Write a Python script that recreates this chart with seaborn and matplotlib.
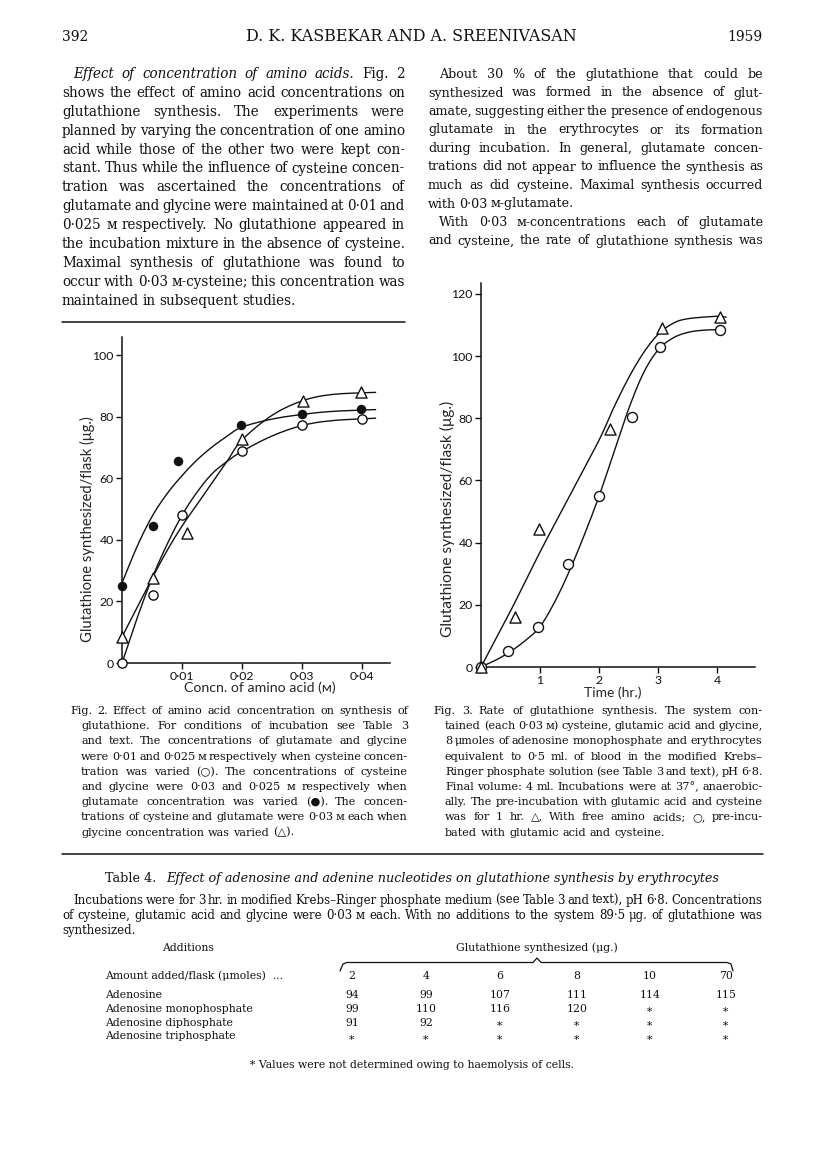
import numpy as np
import seaborn as sns
import matplotlib
matplotlib.use("Agg")
import matplotlib.pyplot as plt
from matplotlib.lines import Line2D

W, H, DPI = 816, 1155, 100
SERIF = ["DejaVu Serif", "DejaVu Sans"]
SANS = ["Lato", "DejaVu Sans"]
INK = "#111111"

# ---- Fig. 2 : concentration of amino acid (M) vs glutathione (ug/flask)
cys_x = [0, 0.0052, 0.01, 0.02, 0.03, 0.04]          # open circles
cys_y = [0, 22, 48, 69, 77.5, 79.5]
glu_x = [0, 0.0052, 0.0093, 0.0199, 0.03, 0.0399]    # filled circles
glu_y = [25, 44.7, 65.8, 77.5, 81, 82.6]
gly_x = [0, 0.0051, 0.0108, 0.02, 0.0302, 0.0398]    # triangles
gly_y = [8.5, 27.5, 42.4, 72.8, 85.1, 88.2]

# hand drawn fitted curves
c2_x = [0, 0.0025, 0.005, 0.0075, 0.01, 0.0125, 0.015, 0.0175, 0.02, 0.025, 0.03, 0.035, 0.0423]
cys_cy = [0, 14.5, 27.5, 38.5, 48, 55.5, 61.5, 65.5, 68.8, 73.8, 77.2, 78.8, 79.6]
glu_cy = [26, 37.8, 47.6, 55, 60.9, 66, 70.2, 73.7, 76.7, 79.3, 80.8, 81.8, 82.4]
gly_cy = [8.5, 18, 27.5, 36.5, 44.5, 51.5, 58.5, 65.5, 72.5, 80.5, 85.2, 87.3, 88]

# ---- Fig. 3 : time (hr) vs glutathione (ug/flask)
free_x = [0, 0.58, 0.99, 2.19, 3.07, 4.05]            # triangles
free_y = [0, 16, 44.5, 76.5, 109, 112.5]
pre_x = [0, 0.45, 0.96, 1.48, 2.0, 2.56, 3.03, 4.05]   # circles
pre_y = [0, 5, 13, 33, 55, 80.5, 103, 108.5]

free_cx = [0, 0.5, 1, 1.5, 2, 2.25, 2.5, 2.75, 3, 3.25, 3.5, 4.0, 4.15]
free_cy = [0, 18, 37, 55, 73, 83.5, 93, 101, 107, 110.5, 112, 112.8, 112.5]
pre_cx = [0, 0.25, 0.5, 0.75, 1, 1.25, 1.5, 1.75, 2, 2.25, 2.5, 2.75, 3, 3.25, 3.5, 3.75, 4.0, 4.12]
pre_cy = [0, 2.2, 5, 8.5, 13, 21, 31, 42.5, 55, 69, 83, 94.5, 102, 105.8, 107.6, 108.3, 108.5, 108.5]

# ---- Table 4
amounts = ["2", "4", "6", "8", "10", "70"]
additions = ["Adenosine", "Adenosine monophosphate", "Adenosine diphosphate", "Adenosine triphosphate"]
table_vals = [
    ["94", "99", "107", "111", "114", "115"],
    ["99", "110", "116", "120", "*", "*"],
    ["91", "92", "*", "*", "*", "*"],
    ["*", "*", "*", "*", "*", "*"],
]

left_col = [
    "*Effect *of *concentration *of *amino *acids. Fig. 2",
    "shows the effect of amino acid concentrations on",
    "glutathione synthesis. The experiments were",
    "planned by varying the concentration of one amino",
    "acid while those of the other two were kept con-",
    "stant. Thus while the influence of cysteine concen-",
    "tration was ascertained the concentrations of",
    "glutamate and glycine were maintained at 0·01 and",
    "0·025\u2009ᴍ respectively. No glutathione appeared in",
    "the incubation mixture in the absence of cysteine.",
    "Maximal synthesis of glutathione was found to",
    "occur with 0·03\u2009ᴍ-cysteine; this concentration was",
    "maintained in subsequent studies.",
]
right_col = [
    "About 30\u2009% of the glutathione that could be",
    "synthesized was formed in the absence of glut-",
    "amate, suggesting either the presence of endogenous",
    "glutamate in the erythrocytes or its formation",
    "during incubation. In general, glutamate concen-",
    "trations did not appear to influence the synthesis as",
    "much as did cysteine. Maximal synthesis occurred",
    "with 0·03\u2009ᴍ-glutamate.",
    "With 0·03\u2009ᴍ-concentrations each of glutamate",
    "and cysteine, the rate of glutathione synthesis was",
]
cap2 = [
    "Fig. 2. Effect of amino acid concentration on synthesis of",
    "glutathione. For conditions of incubation see Table 3",
    "and text. The concentrations of glutamate and glycine",
    "were 0·01 and 0·025\u2009ᴍ respectively when cysteine concen-",
    "tration was varied (○). The concentrations of cysteine",
    "and glycine were 0·03 and 0·025\u2009ᴍ respectively when",
    "glutamate concentration was varied (●). The concen-",
    "trations of cysteine and glutamate were 0·03\u2009ᴍ each when",
    "glycine concentration was varied (△).",
]
cap3 = [
    "Fig. 3. Rate of glutathione synthesis. The system con-",
    "tained (each 0·03\u2009ᴍ) cysteine, glutamic acid and glycine,",
    "8\u2009μmoles of adenosine monophosphate and erythrocytes",
    "equivalent to 0·5 ml. of blood in the modified Krebs–",
    "Ringer phosphate solution (see Table 3 and text), pH 6·8.",
    "Final volume: 4 ml. Incubations were at 37°, anaerobic-",
    "ally. The pre-incubation with glutamic acid and cysteine",
    "was for 1 hr. △, With free amino acids; ○, pre-incu-",
    "bated with glutamic acid and cysteine.",
]
table_intro = [
    "Incubations were for 3 hr. in modified Krebs–Ringer phosphate medium (see Table 3 and text), pH 6·8. Concentrations",
    "of cysteine, glutamic acid and glycine were 0·03\u2009ᴍ each. With no additions to the system 89·5\u2009μg. of glutathione was",
    "synthesized.",
]

sns.set_style("ticks")
plt.rcParams["font.family"] = SANS
plt.rcParams["text.color"] = INK

fig = plt.figure(figsize=(W / DPI, H / DPI), dpi=DPI)
fig.patch.set_facecolor("white")
rend = fig.canvas.get_renderer()


def fx(x):
    return x / W


def fy(y):
    return 1 - y / H


def put(x, y, s, size, ha="left", style="normal", family=SERIF, **kw):
    return fig.text(fx(x), fy(y), s, fontsize=size, ha=ha, va="baseline",
                    style=style, family=family, color=INK, **kw)


def paragraph(lines, x0, x1, y0, dy, size, indent=0, hang=0, plain=None, breaks=()):
    """Justified lines in one common font size, shrunk so the longest line fits."""
    if plain is None:
        plain = (len(lines) - 1,)
    rows = []
    for i, ln in enumerate(lines):
        start = x0 + (indent if i == 0 or i in breaks else 0) + (hang if i > 0 else 0)
        arts = []
        for w in ln.split():
            it = w.startswith("*") and len(w) > 1
            arts.append(put(0, 0, w.lstrip("*") if it else w, size, style="italic" if it else "normal"))
        widths = np.array([a.get_window_extent(rend).width for a in arts])
        rows.append((start, arts, widths, i not in plain))
    space = size * DPI / 72 * 0.28
    k = 1.0
    for start, arts, widths, just in rows:
        n = len(arts)
        need = widths.sum() + 0.75 * space * (n - 1)
        if just or start + need > x1:
            k = min(k, (x1 - start) / need)
    for i, (start, arts, widths, just) in enumerate(rows):
        widths = widths * k
        n = len(arts)
        gap = space * k
        if just and n > 1:
            gap = (x1 - start - widths.sum()) / (n - 1)
        x = start
        for a, w in zip(arts, widths):
            a.set_fontsize(size * k)
            a.set_position((fx(x), fy(y0 + i * dy)))
            x += w + gap


def hline(x0, x1, y, lw=1.1):
    fig.add_artist(Line2D([fx(x0), fx(x1)], [fy(y), fy(y)], color=INK, lw=lw))


def smooth(xs, ys, n=16):
    p = np.column_stack([xs, ys]).astype(float)
    p = np.vstack([2 * p[0] - p[1], p, 2 * p[-1] - p[-2]])
    t = np.linspace(0, 1, n, endpoint=False)[:, None]
    out = []
    for i in range(1, len(p) - 2):
        p0, p1, p2, p3 = p[i - 1], p[i], p[i + 1], p[i + 2]
        out.append(0.5 * (2 * p1 + (p2 - p0) * t + (2 * p0 - 5 * p1 + 4 * p2 - p3) * t ** 2
                          + (3 * p1 - p0 - 3 * p2 + p3) * t ** 3))
    out.append(p[-2][None])
    s = np.vstack(out)
    return s[:, 0], s[:, 1]


# ---- running head
put(62, 41, "392", 10)
put(411, 41, "D. K. KASBEKAR AND A. SREENIVASAN", 11.4, ha="center")
put(762, 41, "1959", 10, ha="right")

paragraph(left_col, 62, 405, 78, 18.9, 10.2, indent=11)
paragraph(right_col, 428, 763, 78, 18.5, 10.2, indent=11, plain=(7,), breaks=(8,))
hline(62, 405, 322)

# ---- Fig. 2
ax2 = fig.add_axes([fx(122), fy(663), (390 - 122) / W, (663 - 337) / H])
for cx, cy in [(c2_x, cys_cy), (c2_x, glu_cy), (c2_x, gly_cy)]:
    sx, sy = smooth(cx, cy)
    sns.lineplot(x=sx, y=sy, sort=False, estimator=None, color=INK, lw=1.0, ax=ax2)
sns.scatterplot(x=glu_x, y=glu_y, marker="o", s=34, color=INK, edgecolor=INK, linewidth=1, ax=ax2, clip_on=False, zorder=4)
sns.scatterplot(x=cys_x, y=cys_y, marker="o", s=44, color="white", edgecolor=INK, linewidth=1, ax=ax2, clip_on=False, zorder=4)
sns.scatterplot(x=gly_x, y=gly_y, marker="^", s=64, color="white", edgecolor=INK, linewidth=1, ax=ax2, clip_on=False, zorder=4)
ax2.set_xlim(0, 0.0447)
ax2.set_ylim(0, 106)
ax2.set_xticks([0.01, 0.02, 0.03, 0.04], ["0·01", "0·02", "0·03", "0·04"])
ax2.set_yticks([0, 20, 40, 60, 80, 100])
ax2.set_xlabel("Concn. of amino acid (ᴍ)", fontsize=10.2, family=SANS)
ax2.set_ylabel("Glutathione synthesized/flask (μg.)", fontsize=10.6, family=SANS)
ax2.xaxis.set_label_coords(0.515, -0.058)
ax2.yaxis.set_label_coords(-0.1, 0.41)

# ---- Fig. 3
ax3 = fig.add_axes([fx(481), fy(667), (755 - 481) / W, (667 - 283) / H])
for cx, cy in [(free_cx, free_cy), (pre_cx, pre_cy)]:
    sx, sy = smooth(cx, cy)
    sns.lineplot(x=sx, y=sy, sort=False, estimator=None, color=INK, lw=1.0, ax=ax3)
sns.scatterplot(x=pre_x, y=pre_y, marker="o", s=52, color="white", edgecolor=INK, linewidth=1, ax=ax3, clip_on=False, zorder=4)
sns.scatterplot(x=free_x, y=free_y, marker="^", s=64, color="white", edgecolor=INK, linewidth=1, ax=ax3, clip_on=False, zorder=4)
ax3.set_xlim(0, 4.64)
ax3.set_ylim(0, 123.5)
ax3.set_xticks([1, 2, 3, 4])
ax3.set_yticks([0, 20, 40, 60, 80, 100, 120])
ax3.set_xlabel("Time (hr.)", fontsize=10, family=SANS)
ax3.set_ylabel("Glutathione synthesized/flask (μg.)", fontsize=11.2, family=SANS)
ax3.xaxis.set_label_coords(0.48, -0.05)
ax3.yaxis.set_label_coords(-0.095, 0.385)

for ax in (ax2, ax3):
    sns.despine(ax=ax)
    ax.set_facecolor("none")
    for sp in ("left", "bottom"):
        ax.spines[sp].set_linewidth(1.1)
        ax.spines[sp].set_color(INK)
    ax.tick_params(direction="out", length=4.5, width=1, colors=INK, labelsize=8.8, pad=1.5)
    for lab in ax.get_xticklabels() + ax.get_yticklabels():
        lab.set_family(SANS)

# ---- captions
paragraph(cap2, 70, 408, 714, 15.2, 9.0, hang=11)
paragraph(cap3, 433, 763, 714, 15.2, 9.0, hang=12)
hline(62, 763, 854)

# ---- Table 4
t = put(0, 882, "Table 4.", 9.2)
tw = t.get_window_extent(rend).width
t2 = put(0, 882, "Effect of adenosine and adenine nucleotides on glutathione synthesis by erythrocytes",
         9.2, style="italic")
t2w = t2.get_window_extent(rend).width
gap = 9
x0 = 412 - (tw + gap + t2w) / 2
t.set_position((fx(x0), fy(882)))
t2.set_position((fx(x0 + tw + gap), fy(882)))

paragraph(table_intro, 62, 763, 904, 15, 8.6, indent=11)

col_x = [352, 426, 500, 577, 650, 726]
TS = 7.8
put(188, 951, "Additions", TS, ha="center")
put(537, 951, "Glutathione synthesized (μg.)", TS, ha="center")
bx = [340, 343, 347, 533, 537, 541, 727, 731, 733]
by = [971, 964, 962.5, 962.5, 958, 962.5, 962.5, 964, 971]
fig.add_artist(Line2D([fx(v) for v in bx], [fy(v) for v in by], color=INK, lw=0.9))
put(105, 979, "Amount added/flask (μmoles)  ...", TS)
for x, a in zip(col_x, amounts):
    put(x, 979, a, TS, ha="center")
for r, (name, vals) in enumerate(zip(additions, table_vals)):
    yy = 998 + r * 13.8
    put(105, yy, name, TS)
    for x, v in zip(col_x, vals):
        put(x, yy + (3 if v == "*" else 0), v, TS, ha="center")
put(412, 1068, "* Values were not determined owing to haemolysis of cells.", 7.8, ha="center")

fig.savefig("out.png", dpi=DPI)
